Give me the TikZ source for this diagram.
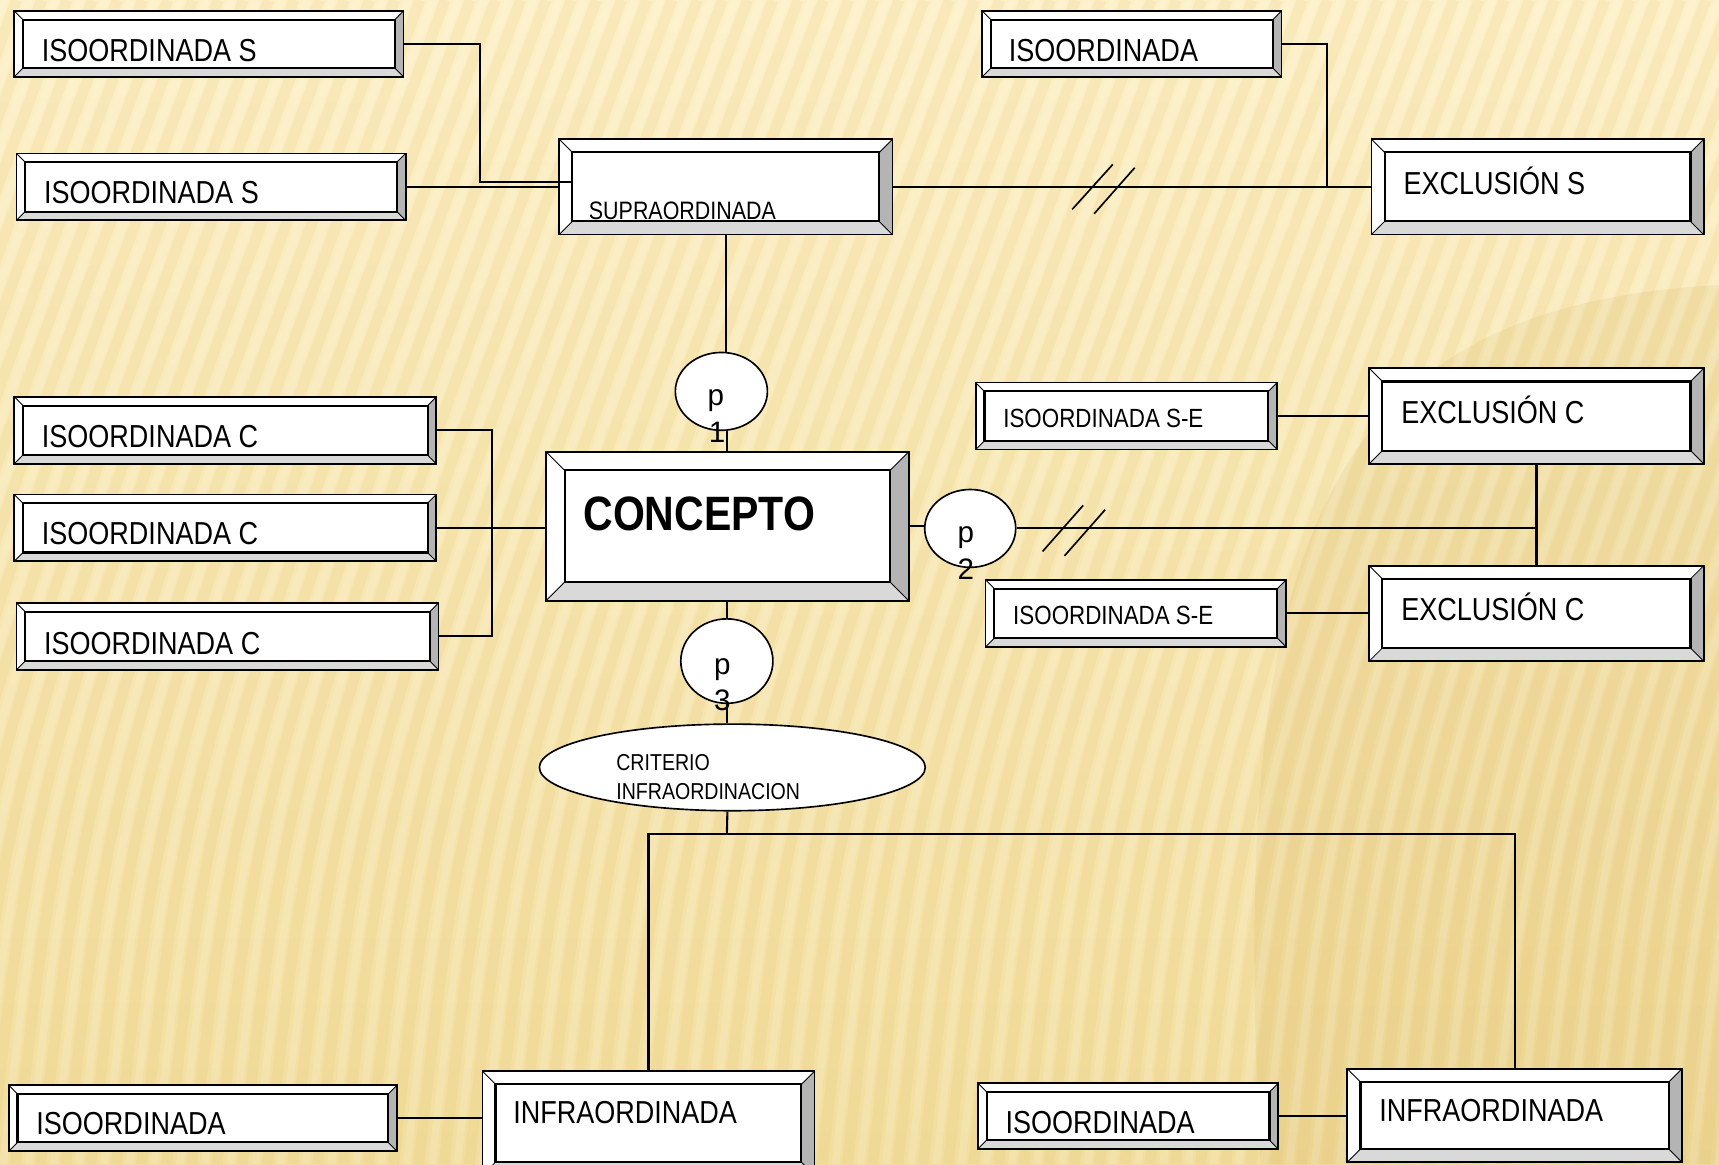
\documentclass[tikz,border=0pt]{standalone}
\usepackage{fontspec}
\setmainfont{Liberation Sans}[FakeStretch=0.85]
\newfontfamily\pfont{Liberation Sans}
\usetikzlibrary{shapes.geometric,fit}
\definecolor{bevR}{RGB}{180,180,180}
\definecolor{bevB}{RGB}{217,217,217}
\definecolor{bgTop}{RGB}{253,240,198}
\definecolor{bgBot}{RGB}{242,222,158}
\definecolor{bgDark}{RGB}{205,165,70}
\definecolor{bgStripe}{RGB}{222,185,100}
\tikzset{
  bev/.style={draw=black, line width=1.6pt, fill=white, inner sep=0pt, outer sep=0pt,
    path picture={
      \fill[bevR] (path picture bounding box.north east) -- (path picture bounding box.south east)
        -- ([xshift=-#1,yshift=#1]path picture bounding box.south east)
        -- ([xshift=-#1,yshift=-#1]path picture bounding box.north east) -- cycle;
      \fill[bevB] (path picture bounding box.south west) -- (path picture bounding box.south east)
        -- ([xshift=-#1,yshift=#1]path picture bounding box.south east)
        -- ([xshift=#1,yshift=#1]path picture bounding box.south west) -- cycle;
      \draw[line width=0.8pt] (path picture bounding box.north west) -- ++(#1,-#1)
        (path picture bounding box.north east) -- ++(-#1,-#1)
        (path picture bounding box.south west) -- ++(#1,#1)
        (path picture bounding box.south east) -- ++(-#1,#1);
      \draw[line width=1.9pt] ([xshift=#1,yshift=-#1]path picture bounding box.north west)
        rectangle ([xshift=-#1,yshift=#1]path picture bounding box.south east);
    }},
  lbl/.style={anchor=base west, inner sep=0pt, font=\fontsize{29}{34}\selectfont},
  slbl/.style={anchor=base west, inner sep=0pt, font=\fontsize{23}{27}\selectfont},
  plbl/.style={anchor=base, inner sep=0pt, font=\pfont\fontsize{27}{32}\selectfont},
  oval/.style={ellipse, draw=black, line width=1.5pt, fill=white, inner sep=0pt},
  conn/.style={draw=black, line width=1.9pt},
  hatch/.style={draw=black, line width=1.5pt}
}
\begin{document}
\begin{tikzpicture}[x=1pt,y=-1pt]
\useasboundingbox (0,0) rectangle (1568,1062);
\begin{scope}
\clip (0,0) rectangle (1568,1062);
\shade[top color=bgTop, bottom color=bgBot] (0,0) rectangle (1568,1062);
\fill[bgDark, opacity=0.14] (1568,260) .. controls (1200,280) and (1120,500) .. (1150,1062) -- (1568,1062) -- cycle;
\foreach \x in {-400,-377,...,1600}
  \draw[bgStripe, opacity=0.12, line width=10pt] (\x,1062) .. controls (\x+40,700) .. (\x+300,0);
\foreach \x in {-388,-365,...,1612}
  \draw[white, opacity=0.14, line width=7pt] (\x,1062) .. controls (\x+40,700) .. (\x+300,0);
\end{scope}

% boxes
\node[bev=8pt, fit={(13,10)(368,70)}] (isoS1) {};
\node[bev=8pt, fit={(15,140)(370,201)}] (isoS2) {};
\node[bev=12pt, fit={(510,127)(814,214)}] (supra) {};
\node[bev=8pt, fit={(896,10)(1169,70)}] (isoT) {};
\node[bev=12pt, fit={(1251,127)(1554,214)}] (exclS) {};
\node[bev=8pt, fit={(890,349)(1165,410)}] (isoSE1) {};
\node[bev=12pt, fit={(1249,336)(1554,423)}] (exclC1) {};
\node[bev=8pt, fit={(899,529)(1173,590)}] (isoSE2) {};
\node[bev=12pt, fit={(1249,516)(1554,603)}] (exclC2) {};
\node[bev=8pt, fit={(13,362)(398,423)}] (isoC1) {};
\node[bev=8pt, fit={(13,451)(398,512)}] (isoC2) {};
\node[bev=8pt, fit={(15,550)(400,611)}] (isoC3) {};
\node[bev=17pt, fit={(498,412)(829,548)}] (concepto) {};
\node[bev=8pt, fit={(8,990)(362,1050)}] (isoB1) {};
\node[bev=12pt, fit={(440,977)(743,1072)}] (infra1) {};
\node[bev=8pt, fit={(892,988)(1166,1048)}] (isoB2) {};
\node[bev=12pt, fit={(1229,975)(1534,1060)}] (infra2) {};

% texts
\node[lbl] (tisoS1) at (38,56) {ISOORDINADA S};
\node[lbl] (tisoS2) at (40,186) {ISOORDINADA S};
\node[slbl] (tsupra) at (537,200) {SUPRAORDINADA};
\node[lbl] (tisoT) at (920,56) {ISOORDINADA};
\node[lbl] (texclS) at (1280,177) {EXCLUSIÓN S};
\node[slbl, font=\fontsize{24}{28}\selectfont] (tisoSE1) at (915,390) {ISOORDINADA S-E};
\node[lbl] (texclC1) at (1278,386) {EXCLUSIÓN C};
\node[slbl, font=\fontsize{24}{28}\selectfont] (tisoSE2) at (924,570) {ISOORDINADA S-E};
\node[lbl] (texclC2) at (1278,566) {EXCLUSIÓN C};
\node[lbl] (tisoC1) at (38,408) {ISOORDINADA C};
\node[lbl] (tisoC2) at (38,497) {ISOORDINADA C};
\node[lbl] (tisoC3) at (40,597) {ISOORDINADA C};
\node[lbl, font=\bfseries\fontsize{44}{50}\selectfont] (tconcepto) at (532,484) {CONCEPTO};
\node[lbl] (tisoB1) at (33,1035) {ISOORDINADA};
\node[lbl] (tinfra1) at (468,1025) {INFRAORDINADA};
\node[lbl] (tisoB2) at (917,1034) {ISOORDINADA};
\node[lbl] (tinfra2) at (1258,1023) {INFRAORDINADA};

% p ovals
\node[oval, minimum width=84pt, minimum height=71pt] (p1) at (658,357) {};
\node[oval, minimum width=83pt, minimum height=71pt] (p2) at (885,482) {};
\node[oval, minimum width=84pt, minimum height=77pt] (p3) at (663,603) {};
\node[oval, minimum width=352pt, minimum height=79pt] (crit) at (668,700) {};

% junctions
\coordinate (jS) at (438,166);
\coordinate (jT) at (1210,170.5);
\coordinate (jC) at (449,481);
\coordinate (jE) at (1401.5,482);
\coordinate (jI) at (663,761);

% connectors
\draw[conn] (isoS1.east) -| (jS) -- ([xshift=13pt]jS -| supra.west);
\draw[conn] (isoS2.east) -- (isoS2.east -| supra.west);
\draw[conn] (supra.east) -- (supra.east -| exclS.west);
\draw[conn] (isoT.east) -| (jT);
\draw[hatch] (978,191) -- (1015,150) (998,195) -- (1035,153);
\draw[conn] (supra.south) -- (supra.south |- p1.north);
\draw[conn] (concepto.north |- p1.south) -- (concepto.north);
\draw[conn] (isoC1.east) -| (jC);
\draw[conn] (isoC3.east) -| (jC);
\draw[conn] (isoC2.east) -- (isoC2.east -| concepto.west);
\draw[conn] (concepto.east) -- (concepto.east -| p2.west);
\draw[conn] (p2.east) -- (jE);
\draw[conn] (exclC1.south) -- (exclC2.north);
\draw[hatch] (951,503) -- (988,461) (971,507) -- (1008,465);
\draw[conn] (isoSE1.east) -- (isoSE1.east -| exclC1.west);
\draw[conn] (isoSE2.east) -- (isoSE2.east -| exclC2.west);
\draw[conn] (concepto.south) -- (concepto.south |- p3.north);
\draw[conn] (concepto.south |- p3.south) -- (concepto.south |- crit.north);
\draw[conn] (concepto.south |- crit.south) -- (jI);
\draw[conn] (infra1.north) |- (jI) -| (infra2.north);
\draw[conn] (isoB1.east) -- (isoB1.east -| infra1.west);
\draw[conn] (isoB2.east) -- (isoB2.east -| infra2.west);

% oval labels
\node[plbl] (lp1a) at (653,370) {p};
\node[plbl] (lp1b) at (654,404) {1};
\node[plbl] (lp2a) at (881,495) {p};
\node[plbl] (lp2b) at (881,529) {2};
\node[plbl] (lp3a) at (659,615) {p};
\node[plbl] (lp3b) at (659,648) {3};
\node[anchor=base west, inner sep=0pt, align=left, font=\fontsize{21}{26}\selectfont] (tcrit) at (562,729) {CRITERIO\\INFRAORDINACION};
\end{tikzpicture}
\end{document}
